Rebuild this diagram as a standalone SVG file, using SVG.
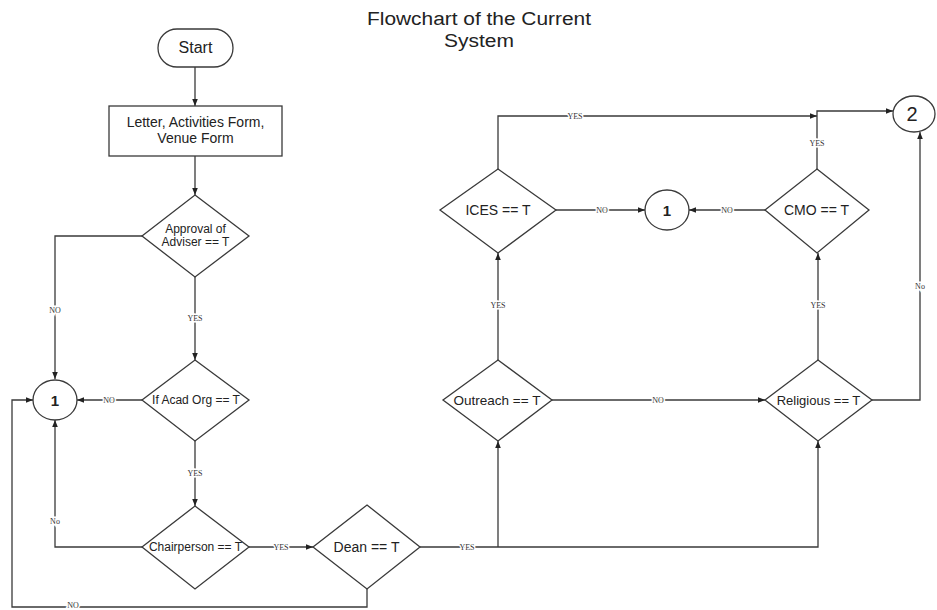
<svg xmlns="http://www.w3.org/2000/svg" width="937" height="610" viewBox="0 0 937 610">
<style>
.s{fill:#fff;stroke:#3a3a3a;stroke-width:1.3}
.c{fill:none;stroke:#3a3a3a;stroke-width:1.3}
.t{font-family:"Liberation Sans",Arial,sans-serif;fill:#222;text-anchor:middle}
.l{font-family:"Liberation Serif","Times New Roman",serif;font-size:8px;fill:#333;text-anchor:middle;stroke:#fff;stroke-width:3px;paint-order:stroke}
</style>
<defs>
<marker id="a" viewBox="0 0 10 10" refX="10" refY="5" markerWidth="7" markerHeight="7" markerUnits="userSpaceOnUse" orient="auto">
<path d="M0,1 L10,5 L0,9 z" fill="#222"/>
</marker>
</defs>
<rect width="937" height="610" fill="#fff"/>
<g id="title">
<text class="t" x="479" y="25" font-size="18" textLength="224" lengthAdjust="spacingAndGlyphs">Flowchart of the Current</text>
<text class="t" x="479" y="47" font-size="18" textLength="70" lengthAdjust="spacingAndGlyphs">System</text>
</g>
<g id="connectors">
<path class="c" d="M195,67 V106" marker-end="url(#a)"/>
<path class="c" d="M195,156 V195" marker-end="url(#a)"/>
<path class="c" d="M142,236 H55 V379" marker-end="url(#a)"/>
<path class="c" d="M195,277 V360" marker-end="url(#a)"/>
<path class="c" d="M142,400 H77" marker-end="url(#a)"/>
<path class="c" d="M195,441 V506" marker-end="url(#a)"/>
<path class="c" d="M142,547 H55 V420" marker-end="url(#a)"/>
<path class="c" d="M249,547 H313" marker-end="url(#a)"/>
<path class="c" d="M367,589 V607 H12 V400 H33" marker-end="url(#a)"/>
<path class="c" d="M420,547 H818 V441" marker-end="url(#a)"/>
<path class="c" d="M498,547 V441" marker-end="url(#a)"/>
<path class="c" d="M498,360 V253" marker-end="url(#a)"/>
<path class="c" d="M552,400 H765" marker-end="url(#a)"/>
<path class="c" d="M818,360 V253" marker-end="url(#a)"/>
<path class="c" d="M872,400 H920 V132" marker-end="url(#a)"/>
<path class="c" d="M556,210 H645" marker-end="url(#a)"/>
<path class="c" d="M765,210 H689" marker-end="url(#a)"/>
<path class="c" d="M498,169 V116 H817" marker-end="url(#a)"/>
<path class="c" d="M817,169 V111 H893" marker-end="url(#a)"/>
<text class="l" x="55" y="313">NO</text>
<text class="l" x="195" y="321">YES</text>
<text class="l" x="109" y="403">NO</text>
<text class="l" x="195" y="476">YES</text>
<text class="l" x="55" y="524">No</text>
<text class="l" x="281" y="550">YES</text>
<text class="l" x="73" y="608">NO</text>
<text class="l" x="467" y="550">YES</text>
<text class="l" x="498" y="308">YES</text>
<text class="l" x="658" y="403">NO</text>
<text class="l" x="818" y="308">YES</text>
<text class="l" x="920" y="289">No</text>
<text class="l" x="602" y="213">NO</text>
<text class="l" x="727" y="213">NO</text>
<text class="l" x="575" y="119">YES</text>
<text class="l" x="817" y="146">YES</text>
</g>
<g id="start">
<rect class="s" x="158" y="29" width="75" height="38" rx="19"/>
<text class="t" x="195.5" y="53" font-size="16">Start</text>
</g>
<g id="forms">
<rect class="s" x="109" y="106" width="173" height="50"/>
<text class="t" x="195.5" y="127" font-size="14">Letter, Activities Form,</text>
<text class="t" x="195.5" y="143" font-size="14">Venue Form</text>
</g>
<g id="approval">
<path class="s" d="M195,195 L249,236 L195,277 L142,236 Z"/>
<text class="t" x="195.5" y="233" font-size="12">Approval of</text>
<text class="t" x="195.5" y="246" font-size="12">Adviser == T</text>
</g>
<g id="acad">
<path class="s" d="M195,360 L249,400 L195,441 L142,400 Z"/>
<text class="t" x="196" y="404" font-size="12">If Acad Org == T</text>
</g>
<g id="chair">
<path class="s" d="M195,506 L249,547 L195,589 L142,547 Z"/>
<text class="t" x="195.5" y="551" font-size="12">Chairperson == T</text>
</g>
<g id="dean">
<path class="s" d="M367,505 L420,547 L367,589 L313,547 Z"/>
<text class="t" x="366.5" y="552" font-size="14">Dean == T</text>
</g>
<g id="outreach">
<path class="s" d="M498,360 L552,400 L498,441 L443,400 Z"/>
<text class="t" x="497" y="405" font-size="13.5">Outreach == T</text>
</g>
<g id="religious">
<path class="s" d="M818,360 L872,400 L818,441 L765,400 Z"/>
<text class="t" x="818.5" y="405" font-size="13">Religious == T</text>
</g>
<g id="ices">
<path class="s" d="M498,169 L556,210 L498,253 L440,210 Z"/>
<text class="t" x="498" y="215" font-size="14">ICES == T</text>
</g>
<g id="cmo">
<path class="s" d="M817,169 L869,210 L817,253 L765,210 Z"/>
<text class="t" x="816.5" y="215" font-size="14">CMO == T</text>
</g>
<g id="conn1-left">
<ellipse class="s" cx="55" cy="400" rx="22" ry="20"/>
<text class="t" x="55" y="405.5" font-size="15" font-weight="bold">1</text>
</g>
<g id="conn1-top">
<ellipse class="s" cx="667" cy="210" rx="22" ry="20"/>
<text class="t" x="667" y="215.5" font-size="15" font-weight="bold">1</text>
</g>
<g id="conn2">
<ellipse class="s" cx="914" cy="114" rx="21" ry="18"/>
<text class="t" x="912" y="121" font-size="20">2</text>
</g>
</svg>
